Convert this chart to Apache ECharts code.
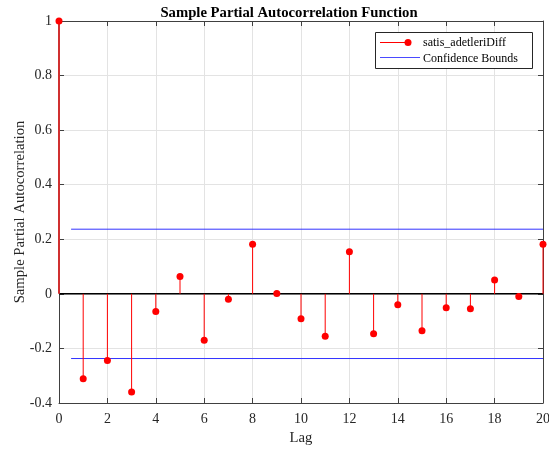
<!DOCTYPE html>
<html>
<head>
<meta charset="utf-8">
<script src="https://cdn.jsdelivr.net/npm/echarts@6/dist/echarts.min.js"></script>
<style>html,body{margin:0;padding:0;background:#fff}#c{width:549px;height:450px}</style>
</head>
<body>
<div id="c"></div>
<script>
var lags = [0,1,2,3,4,5,6,7,8,9,10,11,12,13,14,15,16,17,18,19,20];
var pacf = [1,-0.311,-0.244,-0.360,-0.065,0.064,-0.170,-0.020,0.182,0.001,-0.091,-0.155,0.154,-0.146,-0.040,-0.135,-0.051,-0.055,0.051,-0.010,0.182];
var boundUpper = 0.237;
var boundLower = -0.237;
var boundStart = 0.5;
var boundEnd = 20;

var FONT = '"Liberation Serif", "Times New Roman", serif';
var AX = '#404040';
var points = lags.map(function(l, i){ return [l, pacf[i]]; });

var chart = echarts.init(document.getElementById('c'), null, {renderer:'canvas'});
chart.setOption({
  animation: false,
  backgroundColor: '#fff',
  title: {
    text: 'Sample Partial Autocorrelation Function',
    left: 284, top: 1, textAlign: 'center',
    textStyle: {fontFamily: FONT, fontWeight: 'bold', fontSize: 14.7, color: '#000'}
  },
  grid: {left: 59, right: 6, top: 21, bottom: 47, containLabel: false, outerBoundsMode: 'none'},
  xAxis: [{
    type: 'value', min: 0, max: 20, interval: 2,
    name: 'Lag', nameLocation: 'middle', nameGap: 28,
    nameTextStyle: {fontFamily: FONT, fontSize: 14.7, color: '#262626'},
    axisLine: {show: true, onZero: false, lineStyle: {color: AX, width: 1}},
    axisTick: {show: true, inside: true, length: 5, lineStyle: {color: AX}},
    axisLabel: {fontFamily: FONT, fontSize: 14, color: '#262626', margin: 9},
    splitLine: {show: true, lineStyle: {color: '#e3e3e3', width: 1}}
  },{
    type: 'value', min: 0, max: 20, interval: 2, position: 'top',
    axisLine: {show: true, onZero: false, lineStyle: {color: AX, width: 1}},
    axisTick: {show: true, inside: true, length: 5, lineStyle: {color: AX}},
    axisLabel: {show: false}, splitLine: {show: false}
  }],
  yAxis: [{
    type: 'value', min: -0.4, max: 1, interval: 0.2,
    name: 'Sample Partial Autocorrelation', nameLocation: 'middle', nameGap: 31,
    nameMoveOverlap: false,
    nameTextStyle: {fontFamily: FONT, fontSize: 14.7, color: '#262626'},
    axisLine: {show: true, onZero: false, lineStyle: {color: AX, width: 1}},
    axisTick: {show: true, inside: true, length: 5, lineStyle: {color: AX}},
    axisLabel: {fontFamily: FONT, fontSize: 14, color: '#262626', margin: 7,
      formatter: function(v){ return (Math.round(v*10)/10).toString(); }},
    splitLine: {show: true, lineStyle: {color: '#e3e3e3', width: 1}}
  },{
    type: 'value', min: -0.4, max: 1, interval: 0.2, position: 'right',
    axisLine: {show: true, onZero: false, lineStyle: {color: AX, width: 1}},
    axisTick: {show: true, inside: true, length: 5, lineStyle: {color: AX}},
    axisLabel: {show: false}, splitLine: {show: false}
  }],
  series: [
    {
      type: 'line', name: 'zero', data: [[0,0],[20,0]],
      symbol: 'none', lineStyle: {color: '#000', width: 1.5}, z: 3, silent: true
    },
    {
      type: 'custom', name: 'stems', data: points, z: 4,
      renderItem: function(params, api){
        var x = api.value(0), y = api.value(1);
        var p0 = api.coord([x, 0]);
        var p1 = api.coord([x, y]);
        return {
          type: 'line',
          shape: {x1: p0[0], y1: p0[1], x2: p1[0], y2: p1[1]},
          style: {stroke: x === 0 ? '#d03030' : '#ff0000', lineWidth: x === 0 ? 2 : 1}
        };
      }
    },
    {
      type: 'scatter', name: 'satis_adetleriDiff', data: points, z: 5,
      symbol: 'circle', symbolSize: 7,
      itemStyle: {color: '#ff0000', opacity: 1}
    },
    {
      type: 'line', name: 'upper', data: [[boundStart, boundUpper],[boundEnd, boundUpper]],
      symbol: 'none', lineStyle: {color: '#3333ff', width: 1}, z: 3
    },
    {
      type: 'line', name: 'lower', data: [[boundStart, boundLower],[boundEnd, boundLower]],
      symbol: 'none', lineStyle: {color: '#3333ff', width: 1}, z: 3
    }
  ],
  graphic: [
    {type: 'rect', left: 375, top: 32, shape: {width: 157, height: 36},
     style: {fill: '#fff', stroke: '#262626', lineWidth: 1}, z: 10},
    {type: 'line', shape: {x1: 380, y1: 42.5, x2: 408, y2: 42.5},
     style: {stroke: '#ff0000', lineWidth: 1}, z: 11},
    {type: 'circle', shape: {cx: 408, cy: 42.5, r: 3.5},
     style: {fill: '#ff0000'}, z: 11},
    {type: 'line', shape: {x1: 380, y1: 57.5, x2: 420, y2: 57.5},
     style: {stroke: '#4a4aff', lineWidth: 1}, z: 11},
    {type: 'text', left: 423, top: 37, style: {text: 'satis_adetleriDiff',
     font: '12px "Liberation Serif", serif', fill: '#000'}, z: 11},
    {type: 'text', left: 423, top: 53, style: {text: 'Confidence Bounds',
     font: '12px "Liberation Serif", serif', fill: '#000'}, z: 11}
  ]
});
</script>
</body>
</html>
